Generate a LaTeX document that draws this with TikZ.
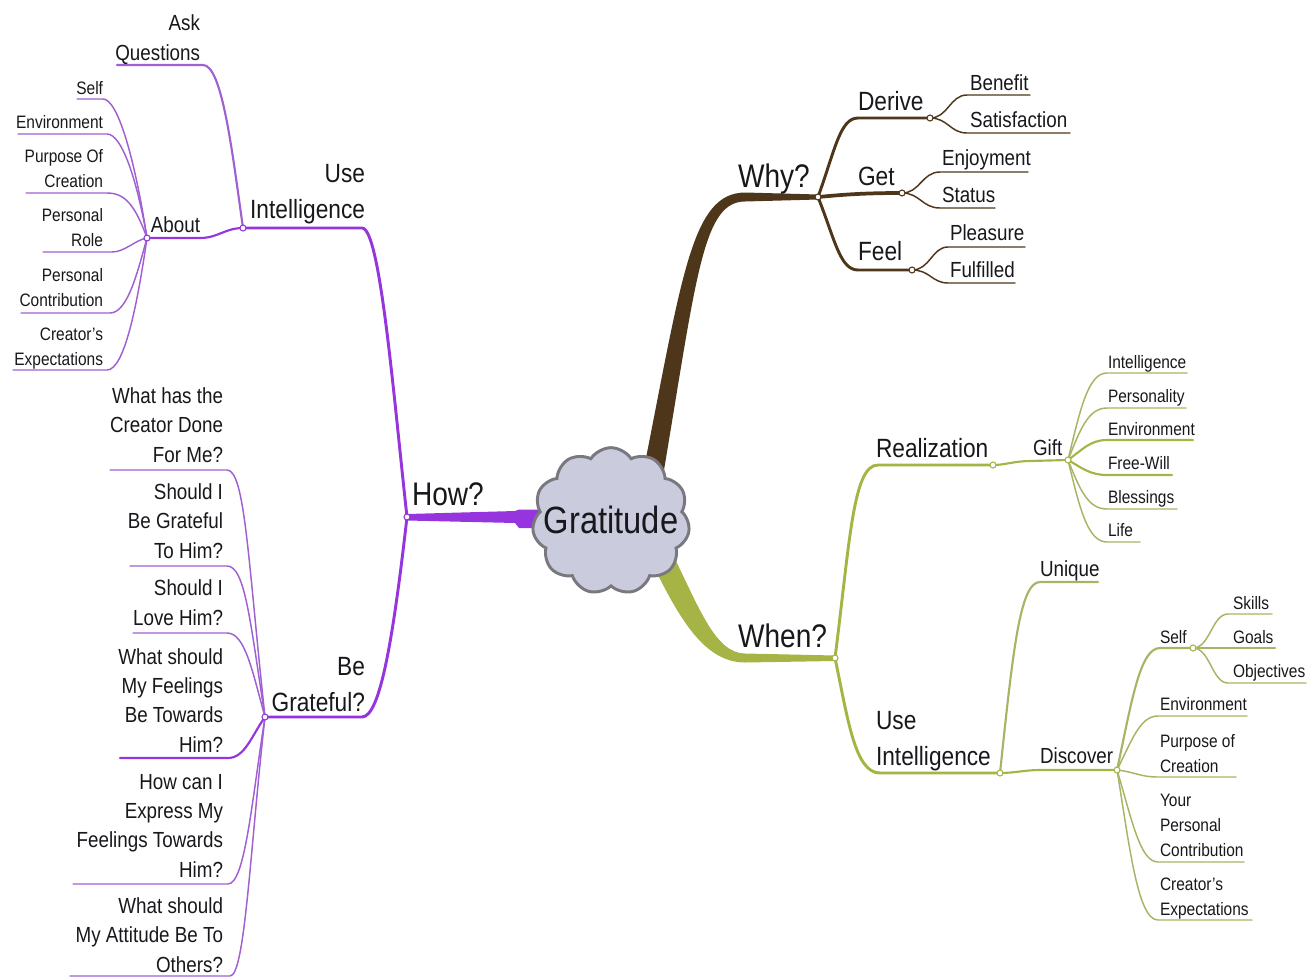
\documentclass[tikz,border=0pt]{standalone}
\usepackage{fontspec}
\setmainfont{Liberation Sans}[FakeStretch=0.86]
\usetikzlibrary{shapes.symbols}

\definecolor{purp}{RGB}{150,52,222}
\definecolor{purpL}{RGB}{160,96,210}
\definecolor{brn}{RGB}{78,54,26}
\definecolor{grn}{RGB}{166,180,70}
\definecolor{grnL}{RGB}{170,178,100}
\definecolor{cloudfill}{RGB}{202,203,220}
\definecolor{cloudedge}{RGB}{120,120,126}
\definecolor{ink}{RGB}{24,24,28}

\newcommand\fGrat{\fontsize{28.5pt}{36pt}\selectfont}
\newcommand\fA{\fontsize{24.5pt}{32pt}\selectfont}
\newcommand\fB{\fontsize{19.8pt}{26.3pt}\selectfont}
\newcommand\fC{\fontsize{16.4pt}{22pt}\selectfont}
\newcommand\fD{\fontsize{13.5pt}{18.5pt}\selectfont}
\newcommand\rtab[1]{\begin{tabular}[b]{@{}r@{}}#1\end{tabular}}
\newcommand\ltab[1]{\begin{tabular}[b]{@{}l@{}}#1\end{tabular}}

\tikzset{
  txt/.style={inner sep=0pt, outer sep=0pt, text=ink},
  tl/.style={txt, anchor=base west},
  tr/.style={txt, anchor=base east},
  leaf/.style={line width=1.1pt, line cap=round},
  twig/.style={line width=1.6pt, line cap=round},
  limb/.style={line width=2.2pt, line cap=round},
  knot/.style={circle, draw, fill=white, inner sep=0pt, minimum size=4.5pt, line width=0.8pt},
}

\begin{document}
\begin{tikzpicture}[x=0.75pt,y=-0.75pt]
\useasboundingbox (0,0) rectangle (1316,978);

% fork points
\coordinate (hw) at (407,517);
\coordinate (ui) at (243,228);
\coordinate (ab) at (147,238);
\coordinate (bg) at (265,717);
\coordinate (wy) at (818,197);
\coordinate (de) at (930,118);
\coordinate (ge) at (902,193);
\coordinate (fe) at (912,270);
\coordinate (wn) at (835,658);
\coordinate (rz) at (993,465);
\coordinate (gi) at (1068,460);
\coordinate (ug) at (1000,773);
\coordinate (di) at (1117,770);
\coordinate (sf) at (1193,648);

% ---------- main trunks (tapered) ----------
\fill[brn] (641,482) -- (646,458) .. controls (683,270) and (693,193) .. (745,192.5)
  -- (818,194.5) -- (818,199.5) -- (745,201.5) .. controls (704,201.5) and (697,272) .. (666,458)
  -- (662,482) -- cycle;
\fill[purp] (407,514) -- (515,511) -- (519,509.5) -- (548,509.5) -- (548,528)
  -- (519,528) -- (515,523) -- (407,520.5) -- cycle;
\fill[grn] (667,543) -- (673,555) .. controls (698,605) and (715,653.5) .. (745,653.5)
  -- (835,655.5) -- (835,661) -- (745,662.5) .. controls (705,662.5) and (680,620) .. (653,565)
  -- (647,553) -- cycle;

% ---------- How? ----------
\draw[purp, limb] (hw) .. controls (393,390) and (380,228) .. (362,228) -- (ui);
\draw[purp, limb] (hw) .. controls (393,640) and (380,717) .. (362,717) -- (bg);
% Use Intelligence
\draw[purpL, twig] (ui) .. controls (232,150) and (222,65) .. (203,65) -- (117,65);
\draw[purp, twig] (ui) .. controls (225,228) and (218,238) .. (200,238) -- (ab);
% About
\draw[purpL, leaf] (ab) .. controls (135,160) and (118,99) .. (103,99) -- (77,99);
\draw[purpL, leaf] (ab) .. controls (137,180) and (122,134) .. (107,134) -- (18,134);
\draw[purpL, leaf] (ab) .. controls (135,205) and (125,193) .. (107,193) -- (26,193);
\draw[purpL, leaf] (ab) .. controls (135,240) and (125,252) .. (112,252) -- (43,252);
\draw[purpL, leaf] (ab) .. controls (138,270) and (128,313) .. (110,313) -- (21,313);
\draw[purpL, leaf] (ab) .. controls (138,300) and (125,370) .. (107,370) -- (13,370);
% Be Grateful?
\draw[purpL, leaf] (bg) .. controls (248,560) and (245,470) .. (227,470) -- (110,470);
\draw[purpL, leaf] (bg) .. controls (250,620) and (245,566) .. (227,566) -- (130,566);
\draw[purpL, leaf] (bg) .. controls (252,670) and (245,633) .. (227,633) -- (133,633);
\draw[purp, twig] (bg) .. controls (252,735) and (245,758) .. (228,758) -- (120,758);
\draw[purpL, leaf] (bg) .. controls (252,800) and (245,884) .. (228,884) -- (73,884);
\draw[purpL, leaf] (bg) .. controls (250,850) and (245,976) .. (230,976) -- (70,976);

% ---------- Why? ----------
\draw[brn, limb] (wy) .. controls (835,150) and (840,118) .. (858,118) -- (de);
\draw[brn, line width=2.8pt] (wy) .. controls (840,195) and (860,193) .. (ge);
\draw[brn, limb] (wy) .. controls (835,240) and (840,270) .. (858,270) -- (fe);
\draw[brn, leaf] (de) .. controls (948,118) and (950,95) .. (967,95) -- (1030,95);
\draw[brn, leaf] (de) .. controls (948,118) and (950,133) .. (967,133) -- (1070,133);
\draw[brn, leaf] (ge) .. controls (920,193) and (922,172) .. (940,172) -- (1028,172);
\draw[brn, leaf] (ge) .. controls (920,193) and (922,208) .. (940,208) -- (995,208);
\draw[brn, leaf] (fe) .. controls (930,270) and (932,247) .. (948,247) -- (1025,247);
\draw[brn, leaf] (fe) .. controls (930,270) and (932,283) .. (948,283) -- (1015,283);

% ---------- When? ----------
\draw[grn, limb] (wn) .. controls (850,540) and (853,465) .. (878,465) -- (rz);
\draw[grn, limb] (wn) .. controls (848,720) and (855,773) .. (880,773) -- (ug);
% Realization
\draw[grn, twig] (rz) .. controls (1005,465) and (1015,461) .. (1030,461) -- (gi);
\draw[grnL, leaf] (gi) .. controls (1080,410) and (1088,373) .. (1107,373) -- (1187,373);
\draw[grnL, leaf] (gi) .. controls (1080,430) and (1088,408) .. (1107,408) -- (1186,408);
\draw[grn, twig] (gi) .. controls (1082,450) and (1090,440) .. (1107,440) -- (1193,440);
\draw[grn, twig] (gi) .. controls (1082,468) and (1090,475) .. (1107,475) -- (1172,475);
\draw[grnL, leaf] (gi) .. controls (1080,490) and (1088,509) .. (1107,509) -- (1177,509);
\draw[grnL, leaf] (gi) .. controls (1080,510) and (1088,542) .. (1107,542) -- (1140,542);
% Use Intelligence
\draw[grnL, twig] (ug) .. controls (1013,650) and (1020,582) .. (1040,582) -- (1098,582);
\draw[grn, twig] (ug) .. controls (1015,773) and (1025,770) .. (1040,770) -- (di);
% Discover
\draw[grnL, twig] (di) .. controls (1132,700) and (1140,648) .. (1160,648) -- (sf);
\draw[grnL, leaf] (di) .. controls (1132,740) and (1140,716) .. (1158,716) -- (1247,716);
\draw[grnL, leaf] (di) .. controls (1135,772) and (1140,777) .. (1158,777) -- (1236,777);
\draw[grnL, leaf] (di) .. controls (1132,820) and (1140,862) .. (1158,862) -- (1244,862);
\draw[grnL, leaf] (di) .. controls (1130,850) and (1138,920) .. (1158,920) -- (1252,920);
% Self
\draw[grnL, leaf] (sf) .. controls (1210,648) and (1212,614) .. (1228,614) -- (1272,614);
\draw[grnL, twig] (sf) -- (1228,648) -- (1275,648);
\draw[grnL, leaf] (sf) .. controls (1210,648) and (1212,683) .. (1228,683) -- (1306,683);

% ---------- centre ----------
\node[cloud, cloud puffs=11, cloud puff arc=115, aspect=1.05, draw=cloudedge, fill=cloudfill,
      line width=2.2pt, minimum width=118pt, minimum height=110pt, inner sep=0pt] (cl) at (611,521) {};
\node[txt, anchor=base, font=\fGrat] (grat) at (611,533) {Gratitude};

% fork knots
\foreach \p/\c in {hw/purp, ui/purp, ab/purp, bg/purp, wy/brn, de/brn, ge/brn, fe/brn,
                   wn/grn, rz/grn, gi/grn, ug/grn, di/grn, sf/grn}
  \node[knot, draw=\c] (k\p) at (\p) {};

% ---------- labels: How? ----------
\node[tl, font=\fA] (how) at (412,505) {How?};
\node[tr, font=\fB] (useL) at (365,218) {\rtab{Use\\Intelligence}};
\node[tr, font=\fB] (bgr) at (365,711) {\rtab{Be\\Grateful?}};
\node[tr, font=\fC] (ask) at (200,60) {\rtab{Ask\\Questions}};
\node[tr, font=\fC] (about) at (200,232) {About};
\node[tr, font=\fD] (a1) at (103,94) {Self};
\node[tr, font=\fD] (a2) at (103,128) {Environment};
\node[tr, font=\fD] (a3) at (103,187) {\rtab{Purpose Of\\Creation}};
\node[tr, font=\fD] (a4) at (103,246) {\rtab{Personal\\Role}};
\node[tr, font=\fD] (a5) at (103,306) {\rtab{Personal\\Contribution}};
\node[tr, font=\fD] (a6) at (103,365) {\rtab{Creator’s\\Expectations}};
\node[tr, font=\fC] (q1) at (223,462) {\rtab{What has the\\Creator Done\\For Me?}};
\node[tr, font=\fC] (q2) at (223,558) {\rtab{Should I\\Be Grateful\\To Him?}};
\node[tr, font=\fC] (q3) at (223,625) {\rtab{Should I\\Love Him?}};
\node[tr, font=\fC] (q4) at (223,752) {\rtab{What should\\My Feelings\\Be Towards\\Him?}};
\node[tr, font=\fC] (q5) at (223,877) {\rtab{How can I\\Express My\\Feelings Towards\\Him?}};
\node[tr, font=\fC] (q6) at (223,972) {\rtab{What should\\My Attitude Be To\\Others?}};

% ---------- labels: Why? ----------
\node[tl, font=\fA] (why) at (738,187) {Why?};
\node[tl, font=\fB] (derive) at (858,110) {Derive};
\node[tl, font=\fB] (get) at (858,185) {Get};
\node[tl, font=\fB] (feel) at (858,260) {Feel};
\node[tl, font=\fC] (w1) at (970,90) {Benefit};
\node[tl, font=\fC] (w2) at (970,127) {Satisfaction};
\node[tl, font=\fC] (w3) at (942,165) {Enjoyment};
\node[tl, font=\fC] (w4) at (942,202) {Status};
\node[tl, font=\fC] (w5) at (950,240) {Pleasure};
\node[tl, font=\fC] (w6) at (950,277) {Fulfilled};

% ---------- labels: When? ----------
\node[tl, font=\fA] (when) at (738,647) {When?};
\node[tl, font=\fB] (real) at (876,457) {Realization};
\node[tl, font=\fB] (useR) at (876,765) {\ltab{Use\\Intelligence}};
\node[tl, font=\fC] (gift) at (1033,455) {Gift};
\node[tl, font=\fD] (g1) at (1108,368) {Intelligence};
\node[tl, font=\fD] (g2) at (1108,402) {Personality};
\node[tl, font=\fD] (g3) at (1108,435) {Environment};
\node[tl, font=\fD] (g4) at (1108,469) {Free-Will};
\node[tl, font=\fD] (g5) at (1108,503) {Blessings};
\node[tl, font=\fD] (g6) at (1108,536) {Life};
\node[tl, font=\fC] (uniq) at (1040,576) {Unique};
\node[tl, font=\fC] (disc) at (1040,763) {Discover};
\node[tl, font=\fD] (self) at (1160,643) {Self};
\node[tl, font=\fD] (s1) at (1233,609) {Skills};
\node[tl, font=\fD] (s2) at (1233,643) {Goals};
\node[tl, font=\fD] (s3) at (1233,677) {Objectives};
\node[tl, font=\fD] (d1) at (1160,710) {Environment};
\node[tl, font=\fD] (d2) at (1160,772) {\ltab{Purpose of\\Creation}};
\node[tl, font=\fD] (d3) at (1160,856) {\ltab{Your\\Personal\\Contribution}};
\node[tl, font=\fD] (d4) at (1160,915) {\ltab{Creator’s\\Expectations}};
\end{tikzpicture}
\end{document}
